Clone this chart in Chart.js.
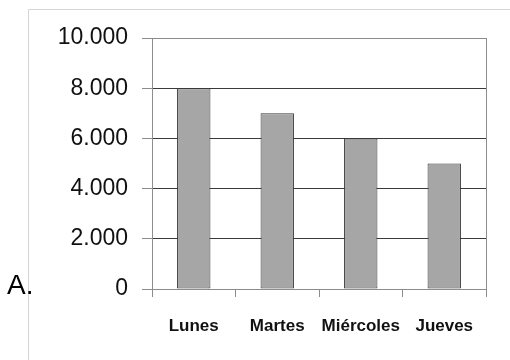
<!DOCTYPE html>
<html>
<head>
<meta charset="utf-8">
<script src="https://cdn.jsdelivr.net/npm/chart.js@4/dist/chart.umd.min.js"></script>
<style>
  html, body { margin: 0; padding: 0; background: #fff; }
  #wrap { width: 510px; height: 360px; position: relative; }
</style>
</head>
<body>
<div id="wrap"><canvas id="c" width="510" height="360"></canvas></div>
<script>
const categories = ['Lunes', 'Martes', 'Miércoles', 'Jueves'];
const values = [8000, 7000, 6000, 5000];
const yTickLabels = {0: '0', 2000: '2.000', 4000: '4.000', 6000: '6.000', 8000: '8.000', 10000: '10.000'};
const optionLabel = 'A.';

const framePlugin = {
  id: 'frame',
  beforeDraw(chart) {
    const ctx = chart.ctx;
    ctx.save();
    ctx.strokeStyle = '#d4d4d4';
    ctx.lineWidth = 1;
    ctx.beginPath();
    ctx.moveTo(28.5, 360);
    ctx.lineTo(28.5, 9.5);
    ctx.lineTo(510, 9.5);
    ctx.stroke();
    ctx.restore();
  },
  afterDraw(chart) {
    const ctx = chart.ctx;
    const a = chart.chartArea;
    ctx.save();
    ctx.strokeStyle = '#8c8c8c';
    ctx.lineWidth = 1;
    ctx.beginPath();
    ctx.moveTo(Math.round(a.right) + 0.5, a.top);
    ctx.lineTo(Math.round(a.right) + 0.5, a.bottom);
    ctx.stroke();
    ctx.fillStyle = '#000';
    ctx.font = '28px "Liberation Sans", Arial, sans-serif';
    ctx.textAlign = 'left';
    ctx.textBaseline = 'middle';
    ctx.fillText(optionLabel, 7, 286);
    ctx.restore();
  }
};

new Chart(document.getElementById('c'), {
  type: 'bar',
  data: {
    labels: categories,
    datasets: [{
      data: values,
      backgroundColor: '#a6a6a6',
      borderColor: '#3a3a3a',
      borderWidth: 1,
      borderSkipped: false,
      barPercentage: 0.4,
      categoryPercentage: 1
    }]
  },
  options: {
    responsive: false,
    animation: false,
    devicePixelRatio: 1,
    layout: { padding: { top: 38, right: 24, bottom: 0, left: 0 } },
    plugins: { legend: { display: false }, tooltip: { enabled: false } },
    scales: {
      x: {
        offset: true,
        grid: {
          offset: true,
          drawOnChartArea: false,
          tickLength: 8,
          color: '#8c8c8c',
          tickColor: '#8c8c8c'
        },
        border: { color: '#8c8c8c' },
        ticks: {
          color: '#111',
          padding: 19,
          font: { family: '"Liberation Sans", Arial, sans-serif', size: 17, weight: 'bold' },
          maxRotation: 0
        },
        afterFit(s) { s.height = 71; }
      },
      y: {
        min: 0,
        max: 10000,
        grid: {
          tickLength: 10,
          color: (c) => (c.tick && (c.tick.value === 10000 || c.tick.value === 0)) ? '#8c8c8c' : '#3a3a3a',
          tickColor: '#8c8c8c'
        },
        border: { color: '#8c8c8c' },
        ticks: {
          stepSize: 2000,
          color: '#111',
          padding: 14,
          font: { family: '"Liberation Sans", Arial, sans-serif', size: 23 },
          callback: (v) => yTickLabels[v]
        },
        afterFit(s) { s.width = 152; }
      }
    }
  },
  plugins: [framePlugin]
});
</script>
</body>
</html>
